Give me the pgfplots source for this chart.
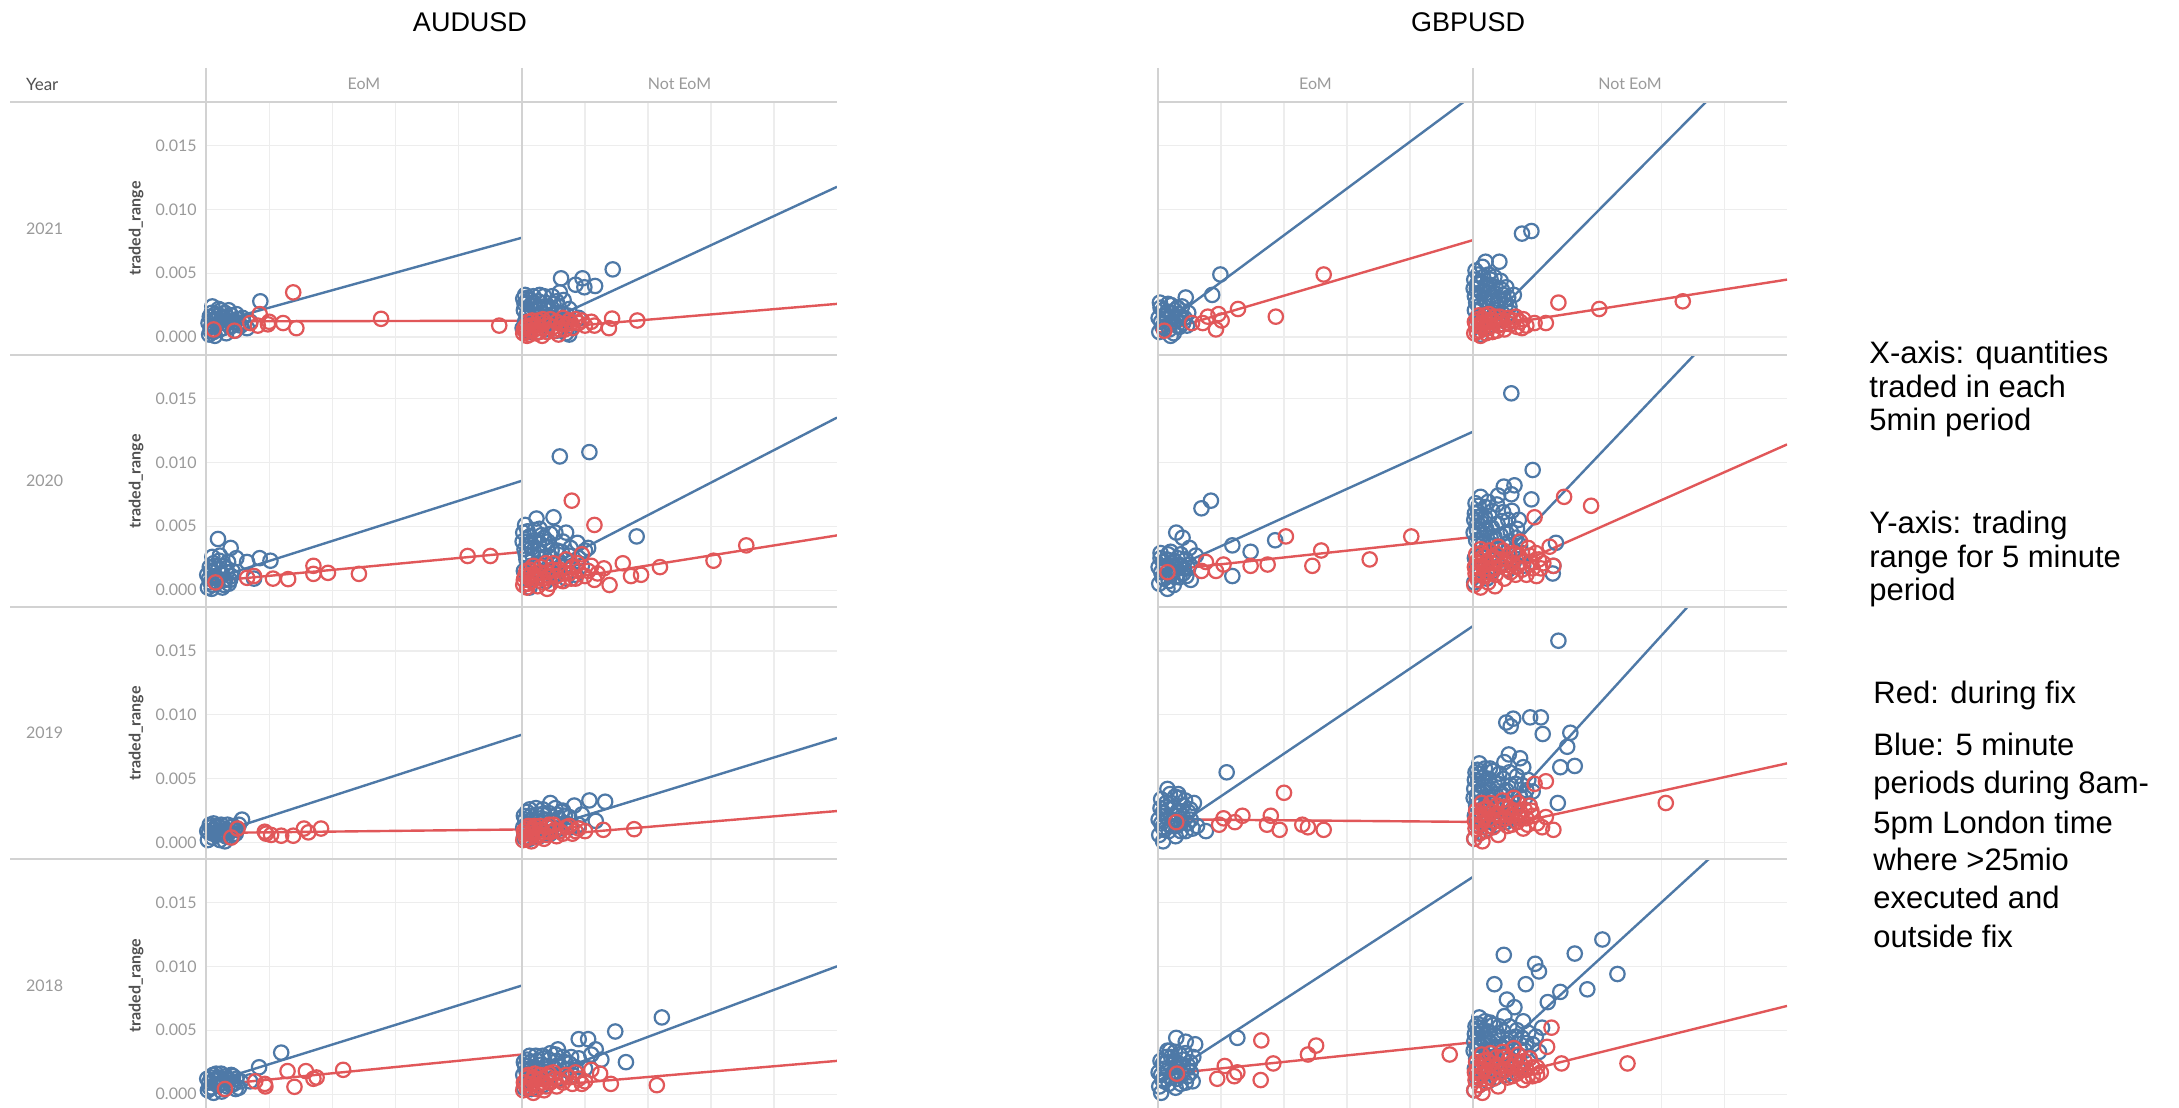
\documentclass[border=0pt]{standalone}
\usepackage{fontspec}
\setmainfont{Liberation Sans}
\newfontfamily\tabfont{Lato}
\usepackage{pgfplots}
\pgfplotsset{compat=1.18}
\definecolor{tblue}{HTML}{4E79A7}
\definecolor{tred}{HTML}{E15759}
\definecolor{gridc}{HTML}{EDEDED}
\definecolor{divc}{HTML}{D2D2D2}
\definecolor{tickc}{HTML}{9A9A9A}
\definecolor{labc}{HTML}{505050}
\pgfplotsset{
  cell/.style={scale only axis, height=126.5pt, anchor=north west,
    xmin=0, xmax=5, ymin=-0.0014, ymax=0.0184,
    axis line style={draw=none}, xtick={1,2,3,4}, ytick={0,0.005,0.01,0.015},
    xticklabels={}, yticklabels={}, major tick length=0pt, scaled ticks=false,
    grid=major, major grid style={draw=gridc, line width=0.6pt}, clip=true},
  ylab/.style={yticklabels={0.000,0.005,0.010,0.015},
    yticklabel style={font=\tabfont\fontsize{8}{9}\selectfont, text=tickc, inner sep=0pt, xshift=-4.5pt}},
  bpts/.style={only marks, mark=o, mark size=3.6pt, draw=tblue, mark options={line width=1.1pt, draw=tblue}},
  rpts/.style={only marks, mark=o, mark size=3.6pt, draw=tred, mark options={line width=1.1pt, draw=tred}},
  bline/.style={no marks, draw=tblue, line width=1.2pt},
  rline/.style={no marks, draw=tred, line width=1.2pt}
}
\begin{document}
\begin{tikzpicture}
\useasboundingbox (0,0) rectangle (1089.5pt,554pt);
\fill[white] (0,0) rectangle (1089.5pt,554pt);

% ================= AUDUSD =================
% 2021 EoM
\begin{axis}[cell, ylab, at={(103pt,503pt)}, width=158pt]
\addplot[bpts] coordinates {(0.05,0.0002)(0.08,0.0008)(0.1,0.0013)(0.12,0.0004)(0.15,0.0018)(0.18,0.001)(0.2,0.0022)(0.22,0.0006)(0.25,0.0015)(0.28,0.0011)(0.3,0.0019)(0.32,0.0003)(0.35,0.0013)(0.38,0.0008)(0.4,0.0017)(0.43,0.0012)(0.46,0.0005)(0.5,0.0014)(0.55,0.0009)(0.6,0.0011)(0.65,0.0007)(0.7,0.0012)(0.86,0.0028)(0.1,0.0024)(0.06,0.0016)(0.14,0.0001)(0.24,0.0021)};
\addplot[bpts] coordinates {(0.07,0.0005)(0.13,0.0009)(0.17,0.0014)(0.21,0.0017)(0.27,0.0007)(0.33,0.0016)(0.36,0.0021)(0.42,0.0009)(0.48,0.0018)(0.52,0.0011)(0.58,0.0015)(0.04,0.0011)(0.09,0.0019)};
\addplot[rpts] coordinates {(1.38,0.0035)(2.77,0.00143)(4.64,0.0009)(1.22,0.0011)(1.43,0.0007)(0.85,0.0018)(0.82,0.0009)(0.98,0.001)(0.45,0.0005)(0.12,0.0006)(1.0,0.0012)(0.7,0.0011)};
\addplot[bline] coordinates {(0,0.00093)(5,0.00778)};
\addplot[rline] coordinates {(0,0.00123)(5,0.00128)};
\end{axis}
% 2021 Not EoM
\begin{axis}[cell, at={(261pt,503pt)}, width=157.5pt]
\addplot[bpts] coordinates {(0.02,0.0030)(0.05,0.0033)(0.08,0.0027)(0.1,0.0031)(0.14,0.0025)(0.18,0.0032)(0.22,0.0022)(0.26,0.0028)(0.3,0.0019)(0.35,0.0024)(0.4,0.0016)(0.45,0.0021)(0.5,0.0014)(0.55,0.0028)(0.6,0.0035)(0.65,0.0018)(0.7,0.0012)(0.75,0.0022)(0.8,0.0008)(0.62,0.0046)(0.96,0.0046)(0.85,0.0041)(0.99,0.0039)(1.16,0.004)(1.44,0.0053)(0.05,0.0012)(0.1,0.0018)(0.15,0.0008)(0.2,0.0014)(0.25,0.0004)(0.3,0.001)(0.38,0.0006)(0.45,0.0011)(0.55,0.0005)(0.7,0.0003)(0.03,0.0021)(0.12,0.0004)(0.35,0.0032)(0.5,0.0026)(0.9,0.0015)(0.75,0.0002)};
\addplot[bpts] coordinates {(0.04,0.0026)(0.07,0.0017)(0.11,0.0029)(0.16,0.0021)(0.19,0.0027)(0.24,0.0017)(0.28,0.0033)(0.33,0.0015)(0.37,0.0027)(0.42,0.0023)(0.48,0.0032)(0.53,0.0019)(0.58,0.0024)(0.66,0.0029)(0.72,0.0017)(0.01,0.0007)};
\addplot[rpts] coordinates {(0.02,0.0003)(0.05,0.0008)(0.08,0.0001)(0.1,0.0012)(0.14,0.0005)(0.18,0.0009)(0.22,0.0003)(0.26,0.0013)(0.3,0.0007)(0.35,0.0011)(0.4,0.0004)(0.45,0.0014)(0.5,0.0008)(0.55,0.0012)(0.6,0.0006)(0.65,0.0015)(0.7,0.001)(0.75,0.0013)(0.8,0.0007)(0.9,0.0011)(1.0,0.0009)(1.1,0.0012)(1.43,0.00145)(1.83,0.0013)(1.38,0.0007)(1.15,0.0009)(0.12,0.0002)(0.32,0.0001)(0.58,0.0002)};
\addplot[rpts] coordinates {(0.03,0.0006)(0.07,0.0004)(0.12,0.0009)(0.16,0.0013)(0.2,0.0006)(0.24,0.0009)(0.28,0.0004)(0.33,0.0014)(0.43,0.0009)(0.52,0.0005)(0.62,0.001)(0.68,0.0006)(0.78,0.0011)(0.85,0.0014)(0.95,0.0013)};
\addplot[bline] coordinates {(0,0.00034)(5,0.01176)};
\addplot[rline] coordinates {(0,0.00054)(5,0.0026)};
\end{axis}
% 2020 EoM
\begin{axis}[cell, ylab, at={(103pt,376.5pt)}, width=158pt]
\addplot[bpts] coordinates {(0.03,0.0002)(0.05,0.0009)(0.08,0.0015)(0.1,0.0004)(0.12,0.0021)(0.15,0.0011)(0.18,0.0006)(0.2,0.0017)(0.23,0.0013)(0.26,0.0002)(0.28,0.0019)(0.3,0.0008)(0.33,0.0014)(0.36,0.0005)(0.4,0.0011)(0.19,0.004)(0.39,0.0033)(0.48,0.0025)(0.65,0.0022)(0.85,0.0025)(1.02,0.0023)(0.76,0.0009)(0.1,0.0026)(0.22,0.0027)(0.06,0.0018)};
\addplot[bpts] coordinates {(0.02,0.0012)(0.07,0.0006)(0.11,0.0014)(0.14,0.0019)(0.17,0.0009)(0.21,0.0023)(0.25,0.0012)(0.29,0.0004)(0.32,0.0017)(0.35,0.0022)(0.38,0.0008)(0.42,0.0015)(0.09,0.0001)};
\addplot[rpts] coordinates {(4.14,0.00267)(4.5,0.00267)(1.7,0.0019)(1.93,0.00135)(2.42,0.00127)(1.7,0.00127)(1.06,0.0009)(1.3,0.00086)(0.65,0.00096)(0.76,0.0011)(0.15,0.0006)};
\addplot[bline] coordinates {(0,0.00071)(5,0.00856)};
\addplot[rline] coordinates {(0,0.00065)(5,0.00298)};
\end{axis}
% 2020 Not EoM
\begin{axis}[cell, at={(261pt,376.5pt)}, width=157.5pt]
\addplot[bpts] coordinates {(0.02,0.0045)(0.05,0.0051)(0.08,0.0038)(0.12,0.0042)(0.15,0.0033)(0.2,0.0047)(0.23,0.0056)(0.27,0.0036)(0.3,0.0029)(0.35,0.0041)(0.4,0.0034)(0.45,0.0026)(0.5,0.0057)(0.55,0.0031)(0.6,0.0022)(0.65,0.0038)(0.7,0.0045)(0.75,0.0027)(0.8,0.0019)(0.9,0.0025)(1.0,0.0031)(1.05,0.0033)(0.6,0.01046)(1.07,0.0108)(1.82,0.0042)(0.03,0.0015)(0.07,0.0024)(0.1,0.0008)(0.14,0.0019)(0.18,0.0012)(0.25,0.0021)(0.32,0.0014)(0.38,0.0007)(0.42,0.0018)(0.5,0.001)(0.58,0.0013)(0.7,0.0009)(0.85,0.0012)(0.04,0.0032)(0.28,0.0048)(0.45,0.0044)(0.12,0.0002)};
\addplot[bpts] coordinates {(0.01,0.0038)(0.06,0.0028)(0.09,0.0046)(0.13,0.0035)(0.17,0.0027)(0.21,0.0039)(0.26,0.0031)(0.31,0.0043)(0.36,0.0025)(0.41,0.0038)(0.47,0.0031)(0.53,0.0045)(0.57,0.0022)(0.63,0.003)(0.68,0.0018)(0.77,0.0033)(0.88,0.0037)(0.95,0.0019)};
\addplot[rpts] coordinates {(0.02,0.0004)(0.05,0.0011)(0.08,0.0002)(0.12,0.0016)(0.15,0.0007)(0.2,0.0012)(0.25,0.0003)(0.3,0.0018)(0.35,0.0009)(0.4,0.0014)(0.45,0.0005)(0.5,0.0021)(0.55,0.0011)(0.6,0.0016)(0.65,0.0007)(0.7,0.0024)(0.75,0.0013)(0.8,0.0018)(0.85,0.0009)(0.9,0.0015)(1.0,0.0011)(1.1,0.0019)(1.2,0.0013)(1.3,0.0017)(0.79,0.007)(1.15,0.0051)(3.56,0.0035)(3.04,0.0023)(2.19,0.0018)(1.6,0.0021)(1.73,0.0011)(1.89,0.0012)(1.39,0.0004)(0.95,0.0028)(0.4,0.0001)};
\addplot[rpts] coordinates {(0.03,0.0008)(0.07,0.0015)(0.1,0.0005)(0.14,0.0012)(0.18,0.0019)(0.22,0.0009)(0.27,0.0014)(0.33,0.0006)(0.38,0.0021)(0.43,0.0011)(0.48,0.0016)(0.58,0.0008)(0.68,0.0013)(0.78,0.0009)(0.88,0.0021)(1.05,0.0015)(1.15,0.0008)};
\addplot[bline] coordinates {(0,0.00078)(5,0.0135)};
\addplot[rline] coordinates {(0,0.00036)(5,0.00428)};
\end{axis}
% 2019 EoM
\begin{axis}[cell, ylab, at={(103pt,250.25pt)}, width=158pt]
\addplot[bpts] coordinates {(0.03,0.0002)(0.05,0.0008)(0.08,0.0012)(0.1,0.0004)(0.13,0.001)(0.16,0.0006)(0.19,0.0013)(0.22,0.0002)(0.25,0.0009)(0.28,0.0011)(0.31,0.0005)(0.34,0.0014)(0.37,0.0008)(0.4,0.0012)(0.44,0.0006)(0.48,0.001)(0.52,0.0014)(0.57,0.0018)(0.12,0.0015)(0.3,0.0001)};
\addplot[bpts] coordinates {(0.02,0.0009)(0.06,0.0014)(0.11,0.0007)(0.15,0.0012)(0.2,0.0009)(0.24,0.0014)(0.29,0.0007)(0.33,0.001)(0.39,0.0004)(0.43,0.0013)(0.47,0.0007)};
\addplot[rpts] coordinates {(0.95,0.0007)(1.03,0.0006)(1.19,0.00054)(1.38,0.00054)(1.55,0.0011)(1.62,0.0008)(1.82,0.0011)(0.93,0.00085)(0.5,0.0011)(0.4,0.0004)};
\addplot[bline] coordinates {(0,0.00045)(5,0.00845)};
\addplot[rline] coordinates {(0,0.00075)(5,0.00103)};
\end{axis}
% 2019 Not EoM
\begin{axis}[cell, at={(261pt,250.25pt)}, width=157.5pt]
\addplot[bpts] coordinates {(0.02,0.0012)(0.05,0.0018)(0.08,0.0024)(0.1,0.0008)(0.14,0.0021)(0.18,0.0014)(0.22,0.0027)(0.26,0.001)(0.3,0.0019)(0.35,0.0023)(0.4,0.0013)(0.45,0.0031)(0.5,0.0017)(0.55,0.0022)(0.6,0.0011)(0.65,0.0025)(0.7,0.0015)(0.75,0.002)(0.83,0.0029)(0.9,0.0014)(1.07,0.0033)(1.32,0.0032)(1.17,0.0017)(0.63,0.0024)(0.03,0.0004)(0.12,0.0003)(0.28,0.0005)(0.45,0.0007)(0.95,0.0022)};
\addplot[bpts] coordinates {(0.03,0.0021)(0.07,0.0014)(0.12,0.0026)(0.16,0.0018)(0.2,0.0009)(0.24,0.0022)(0.28,0.0015)(0.33,0.0026)(0.38,0.0018)(0.43,0.0023)(0.48,0.0012)(0.53,0.0027)(0.58,0.0019)(0.68,0.0021)(0.78,0.0012)};
\addplot[rpts] coordinates {(0.02,0.0002)(0.05,0.0007)(0.08,0.0011)(0.12,0.0004)(0.16,0.0009)(0.2,0.0013)(0.25,0.0006)(0.3,0.001)(0.35,0.0003)(0.4,0.0012)(0.45,0.0008)(0.5,0.0014)(0.55,0.0005)(0.6,0.0009)(0.7,0.0012)(0.8,0.0007)(0.9,0.0011)(1.0,0.0009)(1.29,0.001)(1.78,0.00105)(0.15,0.0001)};
\addplot[rpts] coordinates {(0.03,0.0009)(0.07,0.0003)(0.1,0.0013)(0.14,0.0007)(0.18,0.0011)(0.23,0.0004)(0.28,0.0013)(0.33,0.0008)(0.38,0.0006)(0.43,0.0014)(0.52,0.001)(0.65,0.0007)(0.75,0.0013)(0.85,0.0009)};
\addplot[bline] coordinates {(0,0.0006)(5,0.00818)};
\addplot[rline] coordinates {(0,0.0004)(5,0.00247)};
\end{axis}
% 2018 EoM
\begin{axis}[cell, ylab, at={(103pt,124.5pt)}, width=158pt]
\addplot[bpts] coordinates {(0.03,0.0003)(0.05,0.0009)(0.08,0.0013)(0.1,0.0005)(0.13,0.0011)(0.16,0.0016)(0.19,0.0007)(0.22,0.0012)(0.25,0.0002)(0.28,0.0009)(0.31,0.0014)(0.34,0.0006)(0.37,0.0011)(0.4,0.0015)(0.44,0.0008)(0.48,0.0012)(0.52,0.0005)(1.19,0.00325)(0.84,0.0021)(0.7,0.001)(0.12,0.0001)};
\addplot[bpts] coordinates {(0.02,0.0012)(0.06,0.0005)(0.11,0.0015)(0.15,0.0008)(0.2,0.0013)(0.24,0.0016)(0.29,0.0004)(0.33,0.0012)(0.39,0.0007)(0.43,0.0014)(0.47,0.0004)(0.55,0.001)};
\addplot[rpts] coordinates {(1.29,0.0018)(1.58,0.0018)(2.17,0.0019)(1.4,0.00057)(1.7,0.0012)(1.75,0.0013)(0.93,0.0008)(0.78,0.001)(0.94,0.0006)(0.3,0.0004)};
\addplot[bline] coordinates {(0,0.0008)(5,0.0085)};
\addplot[rline] coordinates {(0,0.00065)(5,0.0031)};
\end{axis}
% 2018 Not EoM
\begin{axis}[cell, at={(261pt,124.5pt)}, width=157.5pt]
\addplot[bpts] coordinates {(0.02,0.0015)(0.05,0.0022)(0.08,0.0027)(0.1,0.001)(0.14,0.0025)(0.18,0.0018)(0.22,0.003)(0.26,0.0013)(0.3,0.0023)(0.35,0.0028)(0.4,0.0016)(0.45,0.0032)(0.5,0.002)(0.55,0.0026)(0.6,0.0012)(0.65,0.0029)(0.7,0.0019)(0.75,0.0024)(0.8,0.0015)(0.9,0.0028)(1.0,0.002)(2.22,0.006)(1.48,0.0049)(0.9,0.0043)(1.05,0.0043)(1.17,0.0035)(1.65,0.0025)(1.26,0.0027)(0.57,0.0035)(0.03,0.0005)(0.15,0.0004)(0.33,0.0007)(1.1,0.0031)};
\addplot[bpts] coordinates {(0.03,0.0025)(0.07,0.0018)(0.12,0.003)(0.16,0.0021)(0.2,0.0012)(0.24,0.0026)(0.28,0.0019)(0.33,0.003)(0.38,0.0022)(0.43,0.0027)(0.48,0.0015)(0.53,0.0031)(0.58,0.0022)(0.68,0.0025)(0.78,0.0029)(0.85,0.0021)};
\addplot[rpts] coordinates {(0.02,0.0003)(0.05,0.0009)(0.08,0.0013)(0.12,0.0005)(0.16,0.0011)(0.2,0.0016)(0.25,0.0007)(0.3,0.0012)(0.35,0.0003)(0.4,0.0014)(0.45,0.0009)(0.5,0.0017)(0.55,0.0006)(0.6,0.0011)(0.7,0.0015)(0.8,0.0008)(0.9,0.0012)(1.0,0.001)(2.14,0.0007)(1.41,0.0008)(1.24,0.0016)(1.1,0.0019)(0.18,0.0001)};
\addplot[rpts] coordinates {(0.03,0.0009)(0.07,0.0005)(0.1,0.0015)(0.14,0.0008)(0.18,0.0013)(0.23,0.0004)(0.28,0.0015)(0.33,0.0009)(0.38,0.0006)(0.43,0.0016)(0.52,0.0012)(0.65,0.0009)(0.75,0.0013)(0.85,0.0017)(0.95,0.0008)};
\addplot[bline] coordinates {(0,0.0008)(5,0.01)};
\addplot[rline] coordinates {(0,0.0005)(5,0.0026)};
\end{axis}

% ================= GBPUSD =================
% 2021 EoM
\begin{axis}[cell, at={(579pt,503pt)}, width=157.5pt]
\addplot[bpts] coordinates {(0.02,0.0004)(0.05,0.0012)(0.08,0.0021)(0.1,0.0007)(0.13,0.0017)(0.16,0.0026)(0.19,0.001)(0.22,0.0019)(0.25,0.0003)(0.28,0.0014)(0.31,0.0023)(0.34,0.0008)(0.37,0.0016)(0.4,0.0011)(0.44,0.0031)(0.48,0.0019)(0.99,0.0049)(0.86,0.0033)(0.03,0.0027)(0.2,0.0001)};
\addplot[bpts] coordinates {(0.01,0.0015)(0.04,0.0023)(0.07,0.0008)(0.11,0.0014)(0.15,0.002)(0.18,0.0006)(0.21,0.0025)(0.24,0.0012)(0.27,0.0021)(0.3,0.0009)(0.33,0.0018)(0.38,0.0024)(0.42,0.0015)(0.46,0.0009)};
\addplot[rpts] coordinates {(2.63,0.0049)(1.87,0.0016)(1.27,0.0022)(0.79,0.0016)(0.96,0.0018)(0.92,0.0006)(0.71,0.0011)(0.54,0.0011)(1.01,0.0013)(0.1,0.0005)};
\addplot[bline] coordinates {(0,0.00065)(5,0.01895)};
\addplot[rline] coordinates {(0,0.00034)(5,0.00759)};
\end{axis}
% 2021 Not EoM
\begin{axis}[cell, at={(736.5pt,503pt)}, width=157pt]
\addplot[bpts] coordinates {(0.02,0.0045)(0.04,0.0052)(0.06,0.0038)(0.08,0.0049)(0.1,0.0031)(0.12,0.0043)(0.15,0.0055)(0.18,0.0036)(0.2,0.0059)(0.23,0.0028)(0.26,0.0041)(0.3,0.0033)(0.34,0.0047)(0.38,0.0025)(0.42,0.0059)(0.46,0.0037)(0.5,0.0029)(0.53,0.0039)(0.58,0.0024)(0.78,0.0081)(0.93,0.0083)(0.65,0.0033)(0.03,0.0021)(0.06,0.0015)(0.1,0.0011)(0.14,0.0023)(0.18,0.0017)(0.22,0.0008)(0.27,0.0019)(0.32,0.0012)(0.36,0.0021)(0.4,0.0014)(0.48,0.0018)(0.55,0.0011)(0.03,0.0032)(0.25,0.0049)(0.12,0.0002)};
\addplot[bpts] coordinates {(0.01,0.0038)(0.05,0.0027)(0.07,0.0042)(0.09,0.0024)(0.13,0.0035)(0.16,0.0047)(0.19,0.0029)(0.21,0.0041)(0.24,0.0035)(0.28,0.0045)(0.32,0.0028)(0.36,0.0039)(0.4,0.003)(0.44,0.0044)(0.48,0.0033)(0.52,0.0025)(0.56,0.0031)(0.6,0.0019)};
\addplot[rpts] coordinates {(1.36,0.0027)(2.01,0.0022)(3.34,0.0028)(1.16,0.0011)(0.98,0.0011)(0.02,0.0003)(0.05,0.0009)(0.08,0.0014)(0.11,0.0005)(0.15,0.0011)(0.19,0.0017)(0.23,0.0007)(0.27,0.0013)(0.31,0.0004)(0.35,0.0016)(0.4,0.0009)(0.45,0.0013)(0.5,0.0006)(0.55,0.0015)(0.6,0.001)(0.65,0.0013)(0.7,0.0008)(0.75,0.0012)(0.8,0.0014)(0.85,0.0009)(0.12,0.0001)};
\addplot[rpts] coordinates {(0.03,0.0012)(0.06,0.0004)(0.09,0.0017)(0.13,0.0008)(0.17,0.0014)(0.21,0.0003)(0.25,0.0018)(0.29,0.0009)(0.33,0.0012)(0.38,0.0005)(0.42,0.0016)(0.48,0.001)(0.58,0.0013)(0.68,0.0016)(0.78,0.0007)};
\addplot[bline] coordinates {(0,0.0)(5,0.0248)};
\addplot[rline] coordinates {(0,0.00065)(5,0.0045)};
\end{axis}
% 2020 EoM
\begin{axis}[cell, at={(579pt,376.5pt)}, width=157.5pt]
\addplot[bpts] coordinates {(0.02,0.0005)(0.05,0.0014)(0.08,0.0022)(0.1,0.0009)(0.13,0.0018)(0.16,0.0028)(0.19,0.0012)(0.22,0.0021)(0.25,0.0004)(0.28,0.0016)(0.31,0.0025)(0.34,0.001)(0.37,0.0019)(0.4,0.0013)(0.44,0.0024)(0.48,0.0017)(0.52,0.0008)(0.69,0.0064)(0.84,0.007)(0.29,0.0045)(0.39,0.0041)(0.5,0.0033)(1.18,0.0035)(1.47,0.003)(1.86,0.0039)(1.18,0.0011)(0.6,0.0027)(0.04,0.0029)(0.15,0.0001)};
\addplot[bpts] coordinates {(0.01,0.0018)(0.04,0.0025)(0.07,0.001)(0.11,0.0016)(0.14,0.0024)(0.17,0.0007)(0.2,0.003)(0.23,0.0015)(0.26,0.0023)(0.29,0.0011)(0.33,0.002)(0.36,0.0028)(0.41,0.0017)(0.45,0.0011)(0.5,0.002)};
\addplot[rpts] coordinates {(4.02,0.0042)(2.03,0.0042)(2.59,0.0031)(3.36,0.0024)(2.45,0.0019)(1.74,0.002)(1.47,0.0019)(1.04,0.002)(0.92,0.0015)(0.69,0.0015)(0.76,0.0022)(0.15,0.0014)};
\addplot[bline] coordinates {(0,0.0012)(5,0.0124)};
\addplot[rline] coordinates {(0,0.00149)(5,0.00415)};
\end{axis}
% 2020 Not EoM
\begin{axis}[cell, at={(736.5pt,376.5pt)}, width=157pt]
\addplot[bpts] coordinates {(0.02,0.0055)(0.04,0.0068)(0.06,0.0047)(0.08,0.0061)(0.1,0.0039)(0.12,0.0073)(0.15,0.0052)(0.18,0.0044)(0.2,0.0065)(0.23,0.0036)(0.26,0.0058)(0.3,0.0049)(0.34,0.0042)(0.38,0.0067)(0.42,0.0033)(0.46,0.0054)(0.49,0.0081)(0.53,0.0045)(0.58,0.0038)(0.62,0.0062)(0.66,0.0082)(0.7,0.0048)(0.75,0.0035)(0.61,0.0154)(0.95,0.0094)(0.93,0.0071)(0.61,0.0075)(0.4,0.0074)(1.32,0.0037)(1.27,0.0013)(1.28,0.0019)(0.03,0.0025)(0.06,0.0018)(0.1,0.0012)(0.14,0.0028)(0.18,0.002)(0.22,0.0009)(0.27,0.0024)(0.32,0.0015)(0.36,0.0027)(0.42,0.0019)(0.5,0.0024)(0.56,0.0016)(0.65,0.0022)(0.72,0.0027)(0.8,0.0019)(0.02,0.0006)};
\addplot[bpts] coordinates {(0.01,0.0045)(0.03,0.006)(0.05,0.0039)(0.07,0.0053)(0.09,0.0066)(0.11,0.0047)(0.13,0.0058)(0.16,0.0036)(0.19,0.0057)(0.21,0.0048)(0.24,0.0069)(0.28,0.0041)(0.31,0.0062)(0.35,0.0035)(0.39,0.0052)(0.44,0.0043)(0.48,0.0061)(0.52,0.0036)(0.56,0.0055)(0.6,0.0046)(0.64,0.0031)(0.68,0.0041)(0.73,0.0055)(0.78,0.0029)};
\addplot[rpts] coordinates {(0.02,0.0004)(0.04,0.0013)(0.06,0.0022)(0.08,0.0008)(0.1,0.0017)(0.13,0.0029)(0.16,0.0011)(0.2,0.0021)(0.24,0.0006)(0.28,0.0016)(0.32,0.0026)(0.36,0.0012)(0.4,0.0034)(0.45,0.0019)(0.5,0.0009)(0.55,0.0024)(0.6,0.0014)(0.65,0.0029)(0.7,0.0018)(0.75,0.0038)(0.8,0.0022)(0.85,0.0012)(0.9,0.0027)(0.95,0.0017)(1.05,0.0024)(1.12,0.0021)(1.45,0.0073)(1.88,0.0066)(0.98,0.0057)(1.22,0.0034)(1.28,0.0019)(1.01,0.0011)(0.12,0.0002)(0.35,0.0003)};
\addplot[rpts] coordinates {(0.03,0.0018)(0.05,0.0028)(0.07,0.0014)(0.09,0.0024)(0.12,0.0032)(0.15,0.0019)(0.18,0.0027)(0.22,0.0014)(0.26,0.0031)(0.3,0.0021)(0.34,0.0017)(0.38,0.0028)(0.43,0.0024)(0.48,0.0031)(0.53,0.0017)(0.58,0.0028)(0.63,0.0021)(0.68,0.0012)(0.73,0.0027)(0.78,0.0016)(0.88,0.0033)(0.93,0.0022)(1.0,0.0029)(1.08,0.0017)};
\addplot[bline] coordinates {(0,0.0002)(5,0.02605)};
\addplot[rline] coordinates {(0,0.0005)(5,0.0114)};
\end{axis}
% 2019 EoM
\begin{axis}[cell, at={(579pt,250.25pt)}, width=157.5pt]
\addplot[bpts] coordinates {(0.02,0.0006)(0.05,0.0015)(0.08,0.0024)(0.1,0.001)(0.13,0.0031)(0.16,0.0019)(0.19,0.0038)(0.22,0.0013)(0.25,0.0027)(0.28,0.0005)(0.31,0.0021)(0.34,0.0035)(0.37,0.0016)(0.4,0.0029)(0.44,0.0009)(0.48,0.0024)(0.52,0.0018)(0.57,0.0031)(0.62,0.0013)(1.09,0.0055)(0.76,0.0009)(0.32,0.0038)(0.15,0.0042)(0.05,0.0034)(0.08,0.0001)};
\addplot[bpts] coordinates {(0.01,0.0018)(0.04,0.0027)(0.07,0.0012)(0.11,0.0021)(0.14,0.0028)(0.17,0.0009)(0.21,0.0031)(0.24,0.0018)(0.27,0.0036)(0.3,0.0013)(0.33,0.0025)(0.36,0.0009)(0.39,0.0021)(0.43,0.0033)(0.47,0.0015)(0.51,0.0026)(0.55,0.0011)};
\addplot[rpts] coordinates {(2.0,0.0039)(1.34,0.0021)(1.04,0.0019)(0.97,0.0014)(1.22,0.0016)(1.79,0.0021)(1.73,0.0014)(1.93,0.001)(2.29,0.0014)(2.38,0.0012)(2.63,0.001)(0.29,0.0016)};
\addplot[bline] coordinates {(0,0.0003)(5,0.01695)};
\addplot[rline] coordinates {(0,0.00183)(5,0.00162)};
\end{axis}
% 2019 Not EoM
\begin{axis}[cell, at={(736.5pt,250.25pt)}, width=157pt]
\addplot[bpts] coordinates {(0.02,0.0042)(0.04,0.0055)(0.06,0.0035)(0.08,0.0048)(0.1,0.0062)(0.13,0.0039)(0.16,0.0051)(0.2,0.0029)(0.23,0.0044)(0.27,0.0058)(0.3,0.0033)(0.34,0.0047)(0.38,0.0026)(0.42,0.0054)(0.46,0.0038)(0.5,0.0063)(0.55,0.0031)(0.6,0.0045)(0.65,0.0027)(0.7,0.0052)(0.75,0.0036)(0.8,0.0059)(0.85,0.0041)(0.9,0.0029)(1.36,0.0158)(0.53,0.0094)(0.64,0.0097)(0.6,0.0091)(0.91,0.0098)(1.08,0.0098)(1.11,0.0085)(1.55,0.0086)(1.5,0.0075)(1.39,0.0059)(1.62,0.006)(1.35,0.0031)(0.57,0.0069)(0.75,0.0066)(0.03,0.0021)(0.06,0.0014)(0.1,0.0008)(0.14,0.0023)(0.18,0.0017)(0.24,0.0011)(0.3,0.0019)(0.36,0.0014)(0.44,0.002)(0.52,0.0016)(0.62,0.0018)(0.72,0.0021)(0.02,0.0003)};
\addplot[bpts] coordinates {(0.01,0.0035)(0.03,0.0049)(0.05,0.0029)(0.07,0.0057)(0.09,0.004)(0.11,0.0054)(0.14,0.0031)(0.17,0.0044)(0.19,0.0058)(0.22,0.0036)(0.25,0.005)(0.28,0.0041)(0.32,0.0056)(0.36,0.0038)(0.4,0.0046)(0.44,0.0031)(0.48,0.005)(0.53,0.0041)(0.58,0.0055)(0.63,0.0036)(0.68,0.0046)(0.73,0.0031)(0.78,0.0045)(0.83,0.0035)(0.88,0.0049)(0.95,0.004)};
\addplot[rpts] coordinates {(3.07,0.0031)(0.98,0.0046)(1.16,0.0048)(0.93,0.0025)(1.28,0.001)(1.1,0.0012)(1.16,0.002)(0.02,0.0003)(0.04,0.0011)(0.07,0.0019)(0.1,0.0007)(0.13,0.0015)(0.17,0.0026)(0.2,0.0009)(0.24,0.0018)(0.28,0.0031)(0.32,0.0012)(0.36,0.0022)(0.4,0.0006)(0.45,0.0017)(0.5,0.0028)(0.55,0.0013)(0.6,0.0021)(0.65,0.0035)(0.7,0.0016)(0.75,0.0024)(0.8,0.0011)(0.85,0.0019)(0.9,0.0029)(0.15,0.0001)};
\addplot[rpts] coordinates {(0.03,0.0017)(0.05,0.0025)(0.08,0.0013)(0.11,0.0022)(0.14,0.0031)(0.18,0.0019)(0.22,0.0027)(0.26,0.0013)(0.3,0.0024)(0.34,0.0017)(0.38,0.0029)(0.42,0.0021)(0.47,0.0033)(0.52,0.0019)(0.57,0.0027)(0.62,0.0014)(0.67,0.0025)(0.72,0.0031)(0.77,0.0019)(0.82,0.0026)(0.87,0.0014)(0.95,0.0021)(1.02,0.0015)};
\addplot[bline] coordinates {(0,0.0)(5,0.027)};
\addplot[rline] coordinates {(0,0.0008)(5,0.0062)};
\end{axis}
% 2018 EoM
\begin{axis}[cell, at={(579pt,124.5pt)}, width=157.5pt]
\addplot[bpts] coordinates {(0.02,0.0006)(0.05,0.0015)(0.08,0.0024)(0.1,0.001)(0.13,0.0029)(0.16,0.0019)(0.19,0.0034)(0.22,0.0013)(0.25,0.0026)(0.28,0.0005)(0.31,0.0021)(0.34,0.0031)(0.37,0.0016)(0.4,0.0027)(0.44,0.0009)(0.48,0.0022)(0.52,0.0017)(0.56,0.0029)(0.29,0.0044)(0.44,0.0041)(0.59,0.0039)(0.15,0.0034)(1.26,0.0044)(0.05,0.0001)};
\addplot[bpts] coordinates {(0.01,0.0017)(0.04,0.0026)(0.07,0.0011)(0.11,0.002)(0.14,0.0025)(0.17,0.0008)(0.21,0.0029)(0.24,0.0017)(0.27,0.0033)(0.3,0.0012)(0.33,0.0024)(0.36,0.0008)(0.39,0.0021)(0.43,0.0032)(0.47,0.0014)(0.51,0.0025)(0.55,0.001)};
\addplot[rpts] coordinates {(4.63,0.0031)(2.51,0.0038)(2.38,0.0031)(1.64,0.0042)(1.83,0.0024)(1.63,0.0011)(1.26,0.0017)(1.06,0.0022)(0.94,0.0012)(1.21,0.0014)(0.3,0.0016)};
\addplot[bline] coordinates {(0,0.001)(5,0.017)};
\addplot[rline] coordinates {(0,0.0015)(5,0.00405)};
\end{axis}
% 2018 Not EoM
\begin{axis}[cell, at={(736.5pt,124.5pt)}, width=157pt]
\addplot[bpts] coordinates {(0.02,0.0041)(0.04,0.0053)(0.06,0.0034)(0.08,0.0047)(0.1,0.006)(0.13,0.0038)(0.16,0.005)(0.2,0.0028)(0.23,0.0043)(0.27,0.0056)(0.3,0.0032)(0.34,0.0046)(0.38,0.0025)(0.42,0.0053)(0.46,0.0037)(0.5,0.0061)(0.55,0.003)(0.6,0.0044)(0.65,0.0026)(0.7,0.005)(0.75,0.0035)(0.8,0.0057)(0.85,0.004)(0.9,0.0028)(1.0,0.0045)(1.1,0.0052)(0.49,0.0109)(2.06,0.0121)(1.62,0.011)(0.99,0.0102)(1.05,0.0096)(0.34,0.0086)(0.84,0.0086)(2.3,0.0094)(1.82,0.0082)(1.39,0.008)(1.19,0.0072)(0.54,0.0074)(0.66,0.0068)(0.03,0.002)(0.06,0.0013)(0.1,0.0007)(0.14,0.0022)(0.18,0.0016)(0.24,0.001)(0.3,0.0018)(0.36,0.0013)(0.44,0.0019)(0.52,0.0015)(0.62,0.0017)(0.72,0.002)(0.02,0.0003)};
\addplot[bpts] coordinates {(0.01,0.0034)(0.03,0.0047)(0.05,0.0028)(0.07,0.0055)(0.09,0.0039)(0.11,0.0052)(0.14,0.003)(0.17,0.0043)(0.19,0.0057)(0.22,0.0035)(0.25,0.0049)(0.28,0.004)(0.32,0.0054)(0.36,0.0037)(0.4,0.0045)(0.44,0.003)(0.48,0.0049)(0.53,0.004)(0.58,0.0053)(0.63,0.0035)(0.68,0.0045)(0.73,0.003)(0.78,0.0044)(0.83,0.0034)(0.88,0.0048)(0.95,0.0039)(1.05,0.0033)};
\addplot[rpts] coordinates {(2.46,0.0024)(1.41,0.0024)(1.25,0.0052)(1.18,0.0037)(1.08,0.0017)(0.02,0.0003)(0.04,0.0011)(0.07,0.0019)(0.1,0.0007)(0.13,0.0015)(0.17,0.0026)(0.2,0.0009)(0.24,0.0018)(0.28,0.0032)(0.32,0.0012)(0.36,0.0022)(0.4,0.0006)(0.45,0.0017)(0.5,0.0029)(0.55,0.0013)(0.6,0.0021)(0.65,0.0036)(0.7,0.0016)(0.75,0.0024)(0.8,0.0011)(0.85,0.0019)(0.9,0.0028)(0.95,0.0014)(1.02,0.0021)(0.15,0.0001)};
\addplot[rpts] coordinates {(0.03,0.0017)(0.05,0.0025)(0.08,0.0013)(0.11,0.0022)(0.14,0.0031)(0.18,0.0019)(0.22,0.0027)(0.26,0.0013)(0.3,0.0024)(0.34,0.0017)(0.38,0.0029)(0.42,0.0021)(0.47,0.0033)(0.52,0.0019)(0.57,0.0027)(0.62,0.0014)(0.67,0.0025)(0.72,0.0031)(0.77,0.0019)(0.82,0.0026)(0.87,0.0014)(0.95,0.0021)(1.02,0.0015)};
\addplot[bline] coordinates {(0,0.0015)(5,0.024)};
\addplot[rline] coordinates {(0,0.0008)(5,0.0069)};
\end{axis}

% ---- dividers ----
\begin{scope}[draw=divc, line width=1pt]
\foreach \yy in {503,376.5,250.25,124.5} {
  \draw (5pt,\yy pt) -- (418.5pt,\yy pt);
  \draw (579pt,\yy pt) -- (893.5pt,\yy pt);
}
\end{scope}
\begin{scope}[draw=divc, line width=0.7pt]
\foreach \xx in {103,261,579,736.5} { \draw (\xx pt,520pt) -- (\xx pt,0pt); }
\end{scope}

% ---- texts ----
\node[font=\fontsize{13.5}{15}\selectfont] at (235pt,543pt) {AUDUSD};
\node[font=\fontsize{13.5}{15}\selectfont] at (734pt,543pt) {GBPUSD};
\begin{scope}[every node/.style={font=\tabfont\fontsize{8}{9}\selectfont}]
\node[anchor=west, text=labc, font=\tabfont\fontsize{8.5}{10}\selectfont] at (9.5pt,512pt) {Year};
\node[text=tickc] at (182pt,512pt) {EoM};
\node[text=tickc] at (339.75pt,512pt) {Not EoM};
\node[text=tickc] at (657.75pt,512pt) {EoM};
\node[text=tickc] at (815pt,512pt) {Not EoM};
\foreach \yy/\yr in {439.75/2021,313.4/2020,187.4/2019,61.25/2018} {
  \node[anchor=west, text=tickc] at (9.5pt,\yy pt) {\yr};
  \node[rotate=90, text=labc, font=\tabfont\bfseries\fontsize{8}{9}\selectfont] at (68pt,\yy pt) {traded\_range};
}
\end{scope}
\begin{scope}[every node/.style={anchor=base west, inner sep=0pt, font=\fontsize{15.5}{18}\selectfont}]
\node at (934.5pt,372pt) {X-axis: quantities};
\node at (934.5pt,355.25pt) {traded in each};
\node at (934.5pt,338.5pt) {5min period};
\node at (934.5pt,287pt) {Y-axis: trading};
\node at (934.5pt,270pt) {range for 5 minute};
\node at (934.5pt,253.5pt) {period};
\node at (936.5pt,202pt) {Red: during fix};
\node at (936.5pt,176pt) {Blue: 5 minute};
\node at (936.5pt,157pt) {periods during 8am-};
\node at (936.5pt,137pt) {5pm London time};
\node at (936.5pt,118.5pt) {where >25mio};
\node at (936.5pt,99.5pt) {executed and};
\node at (936.5pt,80pt) {outside fix};
\end{scope}
\end{tikzpicture}
\end{document}
